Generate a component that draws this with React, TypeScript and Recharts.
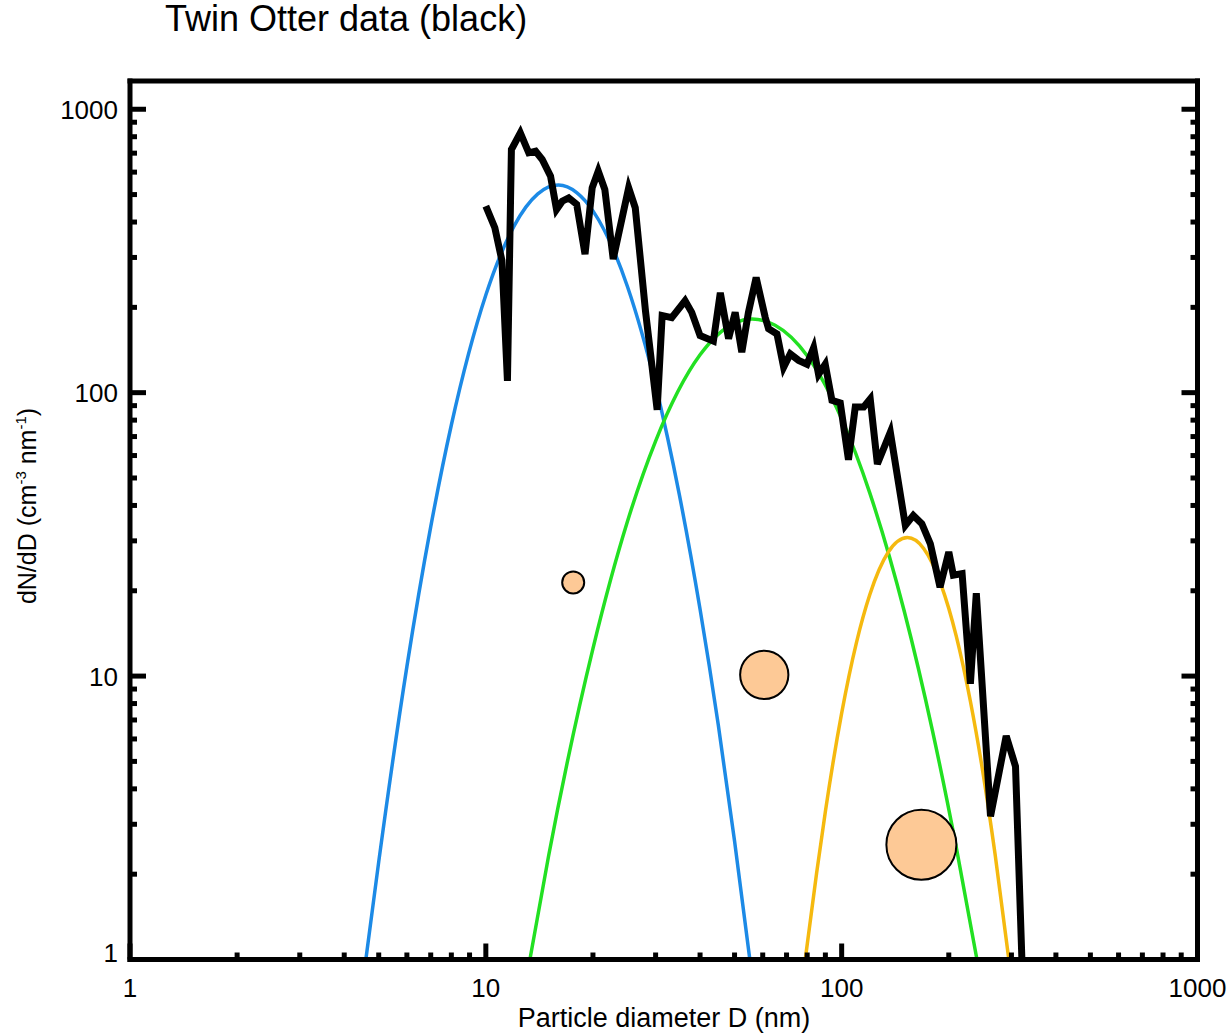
import React from "react";
import { ComposedChart, Line, Scatter, XAxis, YAxis, ZAxis } from "recharts";

const FONT = '"Liberation Sans", Arial, Helvetica, sans-serif';

// Twin Otter size distribution (black)
const otterD = [
  10.0, 10.6, 11.1, 11.5, 11.8, 12.5, 13.2, 13.8, 14.4, 15.2, 15.8, 16.4, 17.1, 18.0,
  19.0, 19.9, 20.7, 21.6, 22.8, 25.2, 26.3, 28.1, 30.3, 31.3, 33.3, 36.3, 37.9, 40.0,
  43.6, 45.6, 48.1, 50.2, 52.4, 54.7, 57.5, 61.0, 62.3, 65.8, 68.7, 71.7, 75.7, 79.9,
  83.4, 86.1, 89.9, 93.9, 99.1, 104.5, 109.2, 115.3, 120.3, 126, 137, 151, 159, 168,
  177.5, 189, 200, 206, 218, 230, 239, 262, 290, 308, 321,
];
const otterN = [
  455, 382, 292, 110, 721, 826, 702, 711, 665, 581, 443, 474, 487, 462,
  308, 528, 605, 521, 296, 528, 449, 194, 87, 187, 184, 211, 192, 159,
  152, 225, 155, 192, 139, 192, 255, 184, 168, 161, 123, 137, 130, 126,
  144, 116, 126, 94, 92, 58, 89, 89, 95, 56, 72.5, 34.0, 36.9, 34.5,
  29.3, 20.6, 27.4, 22.7, 23.0, 9.4, 19.6, 3.2, 6.15, 4.8, 1.0,
];

// fitted modes
const mode1D = [4.6, 5, 6, 7, 8, 10, 12, 14, 16, 18, 20, 25, 30, 35, 40, 45, 50, 55.2];
const mode1N = [1.0, 2.21, 10.8, 33.6, 76.9, 221, 387, 503, 540, 508, 438, 237, 106, 43.5, 17.2, 6.73, 2.62, 1.0];

const mode2D = [13.3, 15, 20, 25, 30, 40, 50, 56, 65, 80, 100, 120, 150, 180, 210, 240];
const mode2N = [1.0, 2.31, 12.5, 35.1, 67.5, 136, 176, 182, 173, 135, 80.8, 44.2, 16.9, 6.41, 2.48, 1.0];

const mode3D = [79, 85, 90, 100, 110, 120, 135, 153, 170, 190, 210, 230, 250, 270, 295];
const mode3N = [1.0, 2.01, 3.33, 7.4, 13.1, 19.4, 27.3, 30.8, 28.2, 21.1, 13.8, 8.15, 4.49, 2.34, 1.0];

// mode markers
const bubbleD = [17.6, 60.6, 167.5];
const bubbleN = [21.4, 10.1, 2.54];
const bubbleZ = [1, 4.8, 10.1];

const TICKS = [
  1, 2, 3, 4, 5, 6, 7, 8, 9,
  10, 20, 30, 40, 50, 60, 70, 80, 90,
  100, 200, 300, 400, 500, 600, 700, 800, 900,
  1000,
];

const toRows = (xs: number[], ys: number[]) => xs.map((d, i) => ({ d, n: ys[i] }));

const otter = toRows(otterD, otterN);
const mode1 = toRows(mode1D, mode1N);
const mode2 = toRows(mode2D, mode2N);
const mode3 = toRows(mode3D, mode3N);
const bubbles = bubbleD.map((d, i) => ({ d, n: bubbleN[i], z: bubbleZ[i] }));

const isMajor = (v: number) => Math.abs(Math.log10(v) - Math.round(Math.log10(v))) < 1e-6;
const MAJOR = 16;
const MINOR = 7;
const TICK_W = 5;

function BottomTick(props: any) {
  const { x, y, payload } = props;
  const major = isMajor(payload.value);
  return (
    <g>
      <line x1={x} y1={y} x2={x} y2={y - (major ? MAJOR : MINOR)} stroke="#000" strokeWidth={TICK_W} />
      {major && (
        <text x={x} y={y + 37.5} textAnchor="middle" fontSize={26} fontFamily={FONT} fill="#000">
          {payload.value}
        </text>
      )}
    </g>
  );
}

function TopTick(props: any) {
  const { x, y, payload } = props;
  const major = isMajor(payload.value);
  return <line x1={x} y1={y} x2={x} y2={y + (major ? MAJOR : MINOR)} stroke="#000" strokeWidth={TICK_W} />;
}

function LeftTick(props: any) {
  const { x, y, payload } = props;
  const major = isMajor(payload.value);
  return (
    <g>
      <line x1={x} y1={y} x2={x + (major ? MAJOR : MINOR)} y2={y} stroke="#000" strokeWidth={TICK_W} />
      {major && (
        <text
          x={x - 12}
          y={y + 9.5 - (payload.value === 1 ? 7 : 0)}
          textAnchor="end"
          fontSize={26}
          fontFamily={FONT}
          fill="#000"
        >
          {payload.value}
        </text>
      )}
    </g>
  );
}

function RightTick(props: any) {
  const { x, y, payload } = props;
  const major = isMajor(payload.value);
  return <line x1={x} y1={y} x2={x - (major ? MAJOR : MINOR)} y2={y} stroke="#000" strokeWidth={TICK_W} />;
}

const frame = { stroke: "#000", strokeWidth: 5, strokeLinecap: "square" as const };

export default function App() {
  return (
    <div
      style={{
        position: "absolute",
        left: 0,
        top: 0,
        width: 1230,
        height: 1035,
        background: "#fff",
        fontFamily: FONT,
        color: "#000",
      }}
    >
      <ComposedChart width={1230} height={1035} margin={{ top: 0, right: 0, bottom: 0, left: 0 }}>
        <XAxis
          xAxisId={0}
          type="number"
          dataKey="d"
          scale="log"
          domain={[1, 1000]}
          allowDataOverflow
          ticks={TICKS}
          interval={0}
          height={75.5}
          tickSize={0}
          tickMargin={0}
          tickLine={false}
          axisLine={frame}
          tick={BottomTick}
        />
        <XAxis
          xAxisId="top"
          orientation="top"
          type="number"
          scale="log"
          domain={[1, 1000]}
          allowDataOverflow
          ticks={TICKS}
          interval={0}
          height={81}
          tickSize={0}
          tickMargin={0}
          tickLine={false}
          axisLine={frame}
          tick={TopTick}
        />
        <YAxis
          yAxisId={0}
          type="number"
          dataKey="n"
          scale="log"
          domain={[1, 1258]}
          allowDataOverflow
          ticks={TICKS}
          interval={0}
          width={130}
          tickSize={0}
          tickMargin={0}
          tickLine={false}
          axisLine={frame}
          tick={LeftTick}
        />
        <YAxis
          yAxisId="right"
          orientation="right"
          type="number"
          scale="log"
          domain={[1, 1258]}
          allowDataOverflow
          ticks={TICKS}
          interval={0}
          width={32.5}
          tickSize={0}
          tickMargin={0}
          tickLine={false}
          axisLine={frame}
          tick={RightTick}
        />
        <ZAxis type="number" dataKey="z" domain={[0, 10.1]} range={[0, 3850]} />

        <Line
          data={mode1}
          dataKey="n"
          type="monotone"
          stroke="#1C8AE6"
          strokeWidth={3.5}
          dot={false}
          activeDot={false}
          isAnimationActive={false}
        />
        <Line
          data={mode2}
          dataKey="n"
          type="monotone"
          stroke="#22E022"
          strokeWidth={3.5}
          dot={false}
          activeDot={false}
          isAnimationActive={false}
        />
        <Line
          data={mode3}
          dataKey="n"
          type="monotone"
          stroke="#F5B90F"
          strokeWidth={3.5}
          dot={false}
          activeDot={false}
          isAnimationActive={false}
        />
        <Line
          data={otter}
          dataKey="n"
          type="linear"
          stroke="#000"
          strokeWidth={7}
          dot={false}
          activeDot={false}
          isAnimationActive={false}
        />
        <Scatter
          data={bubbles}
          dataKey="n"
          fill="#FDC996"
          stroke="#000"
          strokeWidth={2}
          isAnimationActive={false}
        />
      </ComposedChart>

      <div
        style={{
          position: "absolute",
          left: 165,
          top: 1,
          fontSize: 36,
          lineHeight: "36px",
          whiteSpace: "nowrap",
        }}
      >
        Twin Otter data (black)
      </div>

      <div
        style={{
          position: "absolute",
          left: 664,
          top: 1005,
          transform: "translateX(-50%)",
          fontSize: 27,
          lineHeight: "27px",
          whiteSpace: "nowrap",
        }}
      >
        Particle diameter D (nm)
      </div>

      <div
        style={{
          position: "absolute",
          left: 27,
          top: 506,
          transform: "translate(-50%, -50%) rotate(-90deg)",
          fontSize: 25,
          lineHeight: "25px",
          whiteSpace: "nowrap",
        }}
      >
        dN/dD (cm<sup style={{ fontSize: 15, lineHeight: 0 }}>-3</sup> nm
        <sup style={{ fontSize: 15, lineHeight: 0 }}>-1</sup>)
      </div>
    </div>
  );
}
